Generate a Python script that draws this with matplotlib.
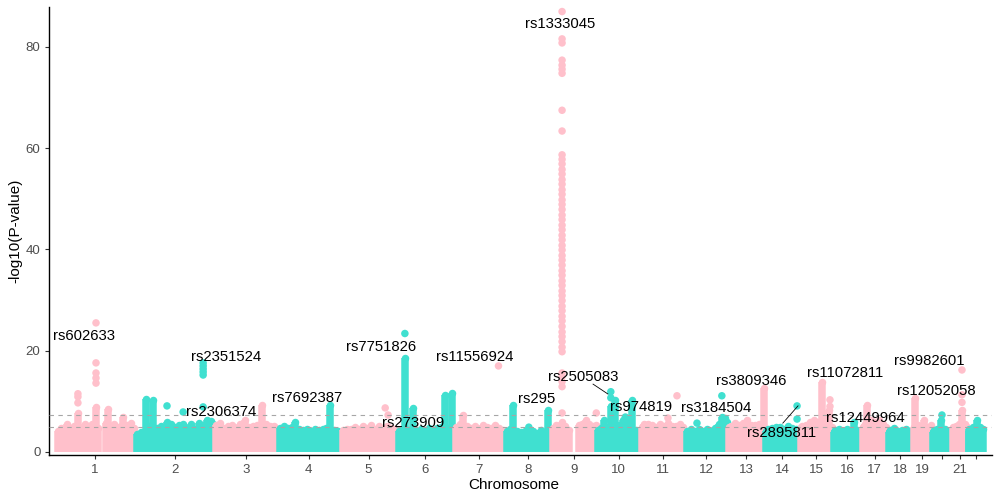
import matplotlib
matplotlib.use("Agg")
import matplotlib.pyplot as plt
import numpy as np

plt.rcParams['font.family'] = ['Liberation Sans', 'DejaVu Sans']

# ---------------- data ----------------
chrom_names = [str(i) for i in range(1, 23)]
chrom_len = [249, 243, 198, 191, 181, 171, 159, 146, 141, 136, 135,
             134, 115, 107, 103, 90, 81, 78, 59, 63, 48, 51]

# dense background of SNPs: position (Mb within chromosome) and local top of -log10(P)
bg_pos = [
    [8, 20, 32, 37, 48, 60, 71, 82, 93, 104, 115, 127, 132, 159, 163, 172, 184, 196, 208, 211, 222, 234, 245],
    [5, 17, 29, 33, 45, 55, 67, 79, 92, 98, 110, 123, 135, 148, 160, 172, 185, 197, 210, 222, 234, 242],
    [7, 19, 32, 44, 56, 69, 81, 97, 109, 122, 134, 149, 162, 174, 187, 196],
    [7, 20, 32, 44, 54, 66, 78, 91, 103, 116, 128, 140, 150, 162, 175, 187],
    [11, 24, 36, 48, 61, 73, 86, 98, 110, 123, 135, 148, 160, 172, 180],
    [4, 12, 22, 35, 47, 60, 72, 84, 97, 109, 122, 134, 146, 159, 168],
    [9, 22, 31, 43, 56, 68, 81, 93, 105, 118, 130, 143, 155],
    [8, 18, 27, 39, 52, 64, 77, 89, 101, 114, 126, 135, 145],
    [5, 15, 25, 33, 43, 53, 84, 95, 106, 117, 128, 139],
    [4, 12, 22, 34, 43, 56, 68, 81, 93, 109, 121, 133],
    [5, 10, 22, 34, 47, 59, 72, 84, 96, 109, 121, 130],
    [8, 20, 33, 45, 57, 70, 82, 95, 107, 116, 126, 133],
    [5, 10, 23, 35, 47, 60, 72, 85, 97, 105, 112],
    [5, 10, 22, 35, 47, 60, 72, 84, 97, 104],
    [5, 8, 21, 33, 46, 58, 70, 79, 83, 92, 100],
    [4, 7, 20, 32, 45, 57, 66, 76, 86],
    [4, 10, 17, 29, 42, 54, 66, 76],
    [4, 7, 19, 31, 44, 56, 66, 75],
    [2, 6, 15, 25, 35, 45, 55],
    [3, 5, 15, 28, 40, 52, 61],
    [3, 10, 20, 30, 40, 46],
    [3, 5, 15, 28, 38, 48],
]
bg_top = [
    [4.2, 4.8, 4.4, 5.6, 4.7, 5.1, 7.7, 4.5, 5.6, 5.2, 5.5, 8.9, 4.8, 5.8, 8.5, 5.2, 5.6, 5.0, 5.3, 6.9, 5.4, 5.8, 4.8],
    [3.6, 4.0, 3.8, 10.5, 5.1, 10.3, 4.7, 5.2, 4.8, 6.0, 5.5, 4.9, 5.4, 5.6, 4.8, 5.5, 4.6, 5.7, 5.4, 6.3, 6.1, 5.6],
    [5.4, 5.8, 4.8, 5.1, 5.3, 4.7, 5.5, 6.3, 4.9, 5.1, 5.3, 9.3, 5.6, 5.1, 5.2, 4.6],
    [4.8, 5.1, 4.8, 5.0, 5.9, 4.6, 4.4, 4.6, 4.2, 4.5, 4.3, 4.5, 4.8, 9.3, 4.4, 4.2],
    [4.4, 4.6, 4.5, 5.0, 4.5, 5.1, 4.7, 5.3, 4.6, 5.1, 4.6, 5.1, 4.7, 4.5, 4.3],
    [4.2, 4.5, 18.5, 4.4, 8.7, 4.2, 4.6, 4.2, 4.8, 4.2, 4.7, 5.0, 11.3, 4.8, 11.7],
    [4.9, 5.6, 7.3, 5.1, 4.8, 5.2, 4.6, 5.3, 4.9, 4.7, 5.4, 4.8, 4.4],
    [4.2, 4.6, 9.3, 4.2, 3.9, 4.1, 3.7, 4.1, 3.7, 4.3, 3.9, 8.3, 4.0],
    [4.8, 5.4, 4.9, 6.0, 5.1, 4.4, 5.3, 5.6, 6.3, 5.6, 5.1, 5.3],
    [4.4, 4.7, 6.3, 4.9, 9.0, 10.3, 5.4, 6.3, 6.1, 10.3, 4.4, 4.2],
    [4.9, 5.6, 5.5, 5.4, 4.9, 5.6, 5.1, 5.8, 5.2, 5.1, 5.6, 4.9],
    [4.2, 4.6, 4.2, 4.6, 4.2, 4.5, 4.2, 4.7, 5.5, 6.9, 6.8, 6.0],
    [4.9, 5.2, 5.7, 5.3, 5.7, 6.3, 5.4, 5.4, 5.5, 5.2, 12.6],
    [4.2, 4.6, 4.8, 5.0, 4.9, 4.6, 5.1, 4.8, 4.5, 4.2],
    [4.9, 5.1, 5.4, 6.0, 6.3, 5.9, 13.8, 7.0, 6.0, 8.3, 5.0],
    [3.9, 4.4, 4.5, 4.2, 4.5, 4.2, 5.9, 4.3, 4.0],
    [5.0, 5.6, 9.3, 6.3, 5.9, 6.3, 5.6, 5.0],
    [4.0, 4.3, 4.7, 4.2, 4.4, 4.5, 4.2, 4.0],
    [5.0, 10.7, 5.3, 4.8, 6.3, 5.0, 5.3],
    [4.0, 4.4, 4.5, 6.3, 4.5, 4.2, 4.0],
    [4.9, 5.1, 5.6, 8.3, 5.5, 5.0],
    [4.2, 4.5, 4.9, 6.3, 5.0, 4.5],
]

# individual SNPs standing out above the background
chr9_col = [7.7, 12.9, 13.9, 14.9, 15.6, 19.8, 20.7, 21.8, 22.8, 23.7, 24.8, 25.9, 26.8,
            27.9, 28.8, 29.9, 30.9, 31.8, 32.9, 33.8, 34.9, 35.8, 36.9, 37.9, 38.8, 39.9,
            40.8, 41.9, 42.8, 43.9, 44.8, 45.9, 46.8, 47.9, 48.9, 49.8, 50.9, 51.8, 52.9,
            53.8, 54.9, 55.8, 56.9, 57.8, 58.7, 63.4, 67.5, 74.8, 75.6, 76.4, 77.4,
            80.8, 81.6, 87.0]
pk_chrom = ([1] * 3 + [1] * 5 + [2, 2] + [2] * 6 + [5, 5] + [6] + [7] + [8]
            + [9] * len(chr9_col) + [9] + [10, 10, 10] + [11, 11] + [12, 12]
            + [14, 14] + [15, 15] + [20] + [21, 21, 21])
pk_pos = ([71] * 3 + [127] * 5 + [98, 148] + [210] * 6 + [142, 151] + [22] + [141] + [76]
          + [33] * len(chr9_col) + [139] + [43, 43, 88] + [84, 112] + [39, 116]
          + [100, 100] + [95, 95] + [31] + [30, 30, 30])
pk_val = ([9.7, 10.9, 11.5] + [13.6, 14.6, 15.6, 17.6, 25.5] + [9.1, 7.9]
          + [8.9, 15.2, 15.8, 16.4, 17.0, 17.6] + [8.7, 7.3] + [23.4] + [17.0] + [4.9]
          + chr9_col + [7.7] + [10.7, 11.9, 6.9] + [6.7, 11.1] + [5.7, 11.1]
          + [6.5, 9.1] + [9.0, 10.3] + [7.3] + [9.8, 11.3, 16.2])

snp_ids = ['rs602633', 'rs2351524', 'rs2306374', 'rs7692387', 'rs7751826', 'rs273909',
           'rs11556924', 'rs295', 'rs1333045', 'rs2505083', 'rs974819', 'rs3184504',
           'rs3809346', 'rs2895811', 'rs11072811', 'rs12449964', 'rs9982601', 'rs12052058']

sig_line = 7.3
sug_line = 5.0

# ---------------- layout (label placement, cumulative Mb / -log10 P) ----------------
label_xy = [(90, 22.9), (530, 18.8), (514, 7.9), (781, 10.7), (1010, 20.7), (1109, 5.7),
            (1301, 18.8), (1493, 10.5), (1564, 84.5), (1636, 14.8), (1815, 8.9), (2047, 8.7),
            (2156, 14.0), (2252, 3.75), (2447, 15.6), (2509, 6.7), (2708, 18.0), (2732, 12.0)]
connectors = [((1667, 13.4), (1713, 11.45)), ((2255, 5.7), (2302, 9.1))]

pink = '#FFC0CB'
teal = '#40E0D0'
cols = [pink, teal]
LW = 5.4
S = LW ** 2

fig = plt.figure(figsize=(10, 5), dpi=100)
ax = fig.add_axes([0.049, 0.09, 0.943, 0.896])

offsets = np.concatenate([[0], np.cumsum(chrom_len)[:-1]])
mids = offsets + np.array(chrom_len) / 2.0

for i in range(22):
    c = cols[i % 2]
    xs = offsets[i] + np.array(bg_pos[i], dtype=float)
    ax.vlines(xs, 0, bg_top[i], colors=c, linewidth=LW, zorder=2)
    ax.scatter(xs, bg_top[i], s=S, color=c, linewidths=0, zorder=2)

pk_x = offsets[np.array(pk_chrom) - 1] + np.array(pk_pos, dtype=float)
pk_c = [cols[(c - 1) % 2] for c in pk_chrom]
ax.scatter(pk_x, pk_val, s=S, c=pk_c, linewidths=0, zorder=2)

ax.axhline(sig_line, color='#A6A6A6', lw=0.8, ls=(0, (4, 4)), zorder=3)
ax.axhline(sug_line, color='#A6A6A6', lw=0.8, ls=(0, (4, 4)), zorder=3)

for name, (tx, ty) in zip(snp_ids, label_xy):
    ax.text(tx, ty, name, ha='center', va='center', fontsize=10.7, color='black', zorder=5)
for (a, b) in connectors:
    ax.plot([a[0], b[0]], [a[1], b[1]], color='black', lw=0.6, zorder=4)

ax.set_xlim(-18.6, 2903)
ax.set_ylim(-0.6, 87.9)
ax.set_yticks([0, 20, 40, 60, 80])
ax.set_xticks(mids)
ax.set_xticklabels([n if n not in ('20', '22') else '' for n in chrom_names])
for s in ['top', 'right']:
    ax.spines[s].set_visible(False)
for s in ['left', 'bottom']:
    ax.spines[s].set_color('black')
    ax.spines[s].set_linewidth(1.0)
ax.tick_params(axis='both', length=3.2, width=0.8, color='#333333',
               labelcolor='#4D4D4D', labelsize=9.5, pad=3)

fig.text(0.514, 1 - 485 / 500, 'Chromosome', ha='center', va='center', fontsize=11)
fig.text(0.015, 1 - 231 / 500, '-log10(P-value)', ha='center', va='center',
         rotation=90, fontsize=11)

fig.savefig('out.png', dpi=100)
